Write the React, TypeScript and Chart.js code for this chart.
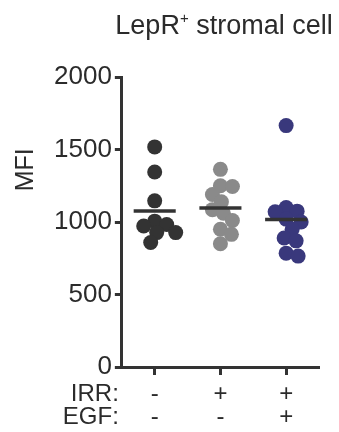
import React, { useEffect, useRef } from 'react';
import { Chart, registerables } from 'chart.js';

Chart.register(...registerables);

// Treatment groups and their row markers under the x axis
const groups = ['Control', 'IRR', 'IRR + EGF'];
const irrRow = ['-', '+', '+'];
const egfRow = ['-', '-', '+'];
const rowNames = ['IRR:', 'EGF:'];

// Y axis ticks (MFI)
const yTicks = [0, 500, 1000, 1500, 2000];

// MFI per mouse, LepR+ stromal cells
const controlMFI = [1518, 1345, 1146, 1006, 983, 972, 927, 927, 859];
const irrMFI = [1363, 1250, 1245, 1190, 1140, 1085, 1060, 1010, 950, 915, 850];
const irrEgfMFI = [1665, 1100, 1075, 1070, 1020, 1000, 950, 890, 870, 785, 765];

const series = [controlMFI, irrMFI, irrEgfMFI];
const seriesColors = ['#333333', '#8a8a8a', '#39387c'];

const FONT = "'Liberation Sans', Arial, Helvetica, sans-serif";
const INK = '#2b2b2b';
const AXIS = '#333333';
const X_TICK_LEN = 8;
const X_TICK_PAD = 8;
const X_LINE_H = 23;

const mean = (a: number[]) => a.reduce((s, v) => s + v, 0) / a.length;

// Spreads the points of each group sideways so they do not pile on top of each other
const swarmPlugin = {
  id: 'swarm',
  afterDatasetsUpdate(chart: any) {
    chart.data.datasets.forEach((ds: any, i: number) => {
      if (!ds.swarm) return;
      const meta = chart.getDatasetMeta(i);
      const pts = meta.data.slice().sort((a: any, b: any) => a.y - b.y);
      const placed: { x: number; y: number }[] = [];
      const minD = 11.5;
      for (const p of pts) {
        const cx = p.x;
        let nx = cx;
        for (let k = 0; k < 200; k++) {
          const off = k === 0 ? 0 : (k % 2 ? 1 : -1) * Math.ceil(k / 2);
          const tx = cx + off;
          if (placed.every((q) => Math.hypot(tx - q.x, p.y - q.y) >= minD)) {
            nx = tx;
            break;
          }
        }
        p.x = nx;
        placed.push({ x: nx, y: p.y });
      }
    });
  },
};

// Title, y axis title and the row names of the x axis
const labelsPlugin = {
  id: 'labels',
  afterDraw(chart: any) {
    const { ctx, chartArea } = chart;
    const xs = chart.scales.x;
    ctx.save();
    ctx.fillStyle = INK;

    // Title with superscript "+"
    const big = `27px ${FONT}`;
    const small = `15px ${FONT}`;
    const partA = 'LepR';
    const partB = '+';
    const partC = ' stromal cell';
    ctx.font = big;
    const wA = ctx.measureText(partA).width;
    const wC = ctx.measureText(partC).width;
    ctx.font = small;
    const wB = ctx.measureText(partB).width;
    const total = wA + wB + wC;
    const cx = 224;
    const ty = 27;
    const x0 = cx - total / 2;
    ctx.textBaseline = 'middle';
    ctx.textAlign = 'left';
    ctx.font = big;
    ctx.fillText(partA, x0, ty);
    ctx.font = small;
    ctx.fillText(partB, x0 + wA, ty - 8);
    ctx.font = big;
    ctx.fillText(partC, x0 + wA + wB, ty);

    // Y axis title
    ctx.save();
    ctx.translate(26, chartArea.top + (chartArea.bottom - chartArea.top) * 0.32);
    ctx.rotate(-Math.PI / 2);
    ctx.textAlign = 'center';
    ctx.font = `25px ${FONT}`;
    ctx.fillText('MFI', 0, 0);
    ctx.restore();

    // Row names left of the x axis labels
    ctx.textAlign = 'right';
    ctx.font = `24px ${FONT}`;
    rowNames.forEach((name, r) => {
      const y = xs.top + X_TICK_LEN + X_TICK_PAD + X_LINE_H * (r + 0.5);
      ctx.fillText(name, chartArea.left - 3, y);
    });
    ctx.restore();
  },
};

export default function App() {
  const canvasRef = useRef<HTMLCanvasElement | null>(null);

  useEffect(() => {
    const canvas = canvasRef.current;
    if (!canvas) return;

    const meanSets = series.map((vals, g) => {
      const m = mean(vals);
      return {
        data: [
          { x: g - 0.32, y: m },
          { x: g + 0.32, y: m },
        ],
        showLine: true,
        borderColor: AXIS,
        borderWidth: 3.5,
        borderCapStyle: 'butt',
        pointRadius: 0,
        order: 0,
      };
    });

    const pointSets = series.map((vals, g) => ({
      data: vals.map((v) => ({ x: g, y: v })),
      backgroundColor: seriesColors[g],
      borderWidth: 0,
      pointRadius: 7.5,
      pointHoverRadius: 7.5,
      swarm: true,
      order: 1,
    }));

    const chart = new Chart(canvas, {
      type: 'scatter',
      data: { datasets: [...meanSets, ...pointSets] as any },
      plugins: [swarmPlugin, labelsPlugin],
      options: {
        animation: false,
        responsive: false,
        maintainAspectRatio: false,
        layout: { padding: { left: 51, right: 20, top: 77, bottom: 0 } },
        plugins: {
          legend: { display: false },
          tooltip: { enabled: false },
          title: { display: false },
        },
        scales: {
          x: {
            type: 'linear',
            min: -0.5,
            max: 2.5,
            afterBuildTicks: (s: any) => {
              s.ticks = groups.map((_, i) => ({ value: i }));
            },
            grid: {
              display: true,
              drawOnChartArea: false,
              drawTicks: true,
              tickLength: X_TICK_LEN,
              tickWidth: 3,
              tickColor: AXIS,
            },
            border: { display: true, color: AXIS, width: 3 },
            ticks: {
              autoSkip: false,
              maxRotation: 0,
              padding: X_TICK_PAD,
              color: INK,
              font: { family: FONT, size: 24, lineHeight: X_LINE_H / 24 },
              callback: (v: any) => [irrRow[v], egfRow[v]],
            },
          },
          y: {
            min: 0,
            max: 2000,
            afterBuildTicks: (s: any) => {
              s.ticks = yTicks.map((v) => ({ value: v }));
            },
            grid: {
              display: true,
              drawOnChartArea: false,
              drawTicks: true,
              tickLength: 7,
              tickWidth: 3,
              tickColor: AXIS,
            },
            border: { display: true, color: AXIS, width: 3 },
            ticks: {
              padding: 3,
              color: INK,
              font: { family: FONT, size: 26 },
              callback: (v: any) => String(v),
            },
          },
        },
      },
    });

    return () => chart.destroy();
  }, []);

  return (
    <div style={{ position: 'fixed', left: 0, top: 0, width: 339, height: 432, overflow: 'hidden', background: '#fff' }}>
      <canvas ref={canvasRef} width={339} height={437} style={{ display: 'block' }} />
    </div>
  );
}
